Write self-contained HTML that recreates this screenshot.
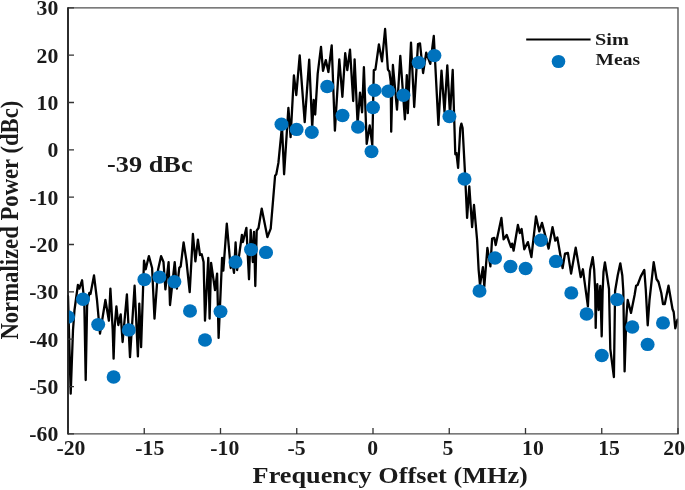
<!DOCTYPE html>
<html><head><meta charset="utf-8"><title>Spectrum</title>
<style>
html,body{margin:0;padding:0;background:#fff;}
svg{display:block;}
text{font-family:"Liberation Serif","Times New Roman",serif;font-weight:bold;fill:#1a1a1a;}
</style></head><body>
<svg width="685" height="490" viewBox="0 0 685 490">
<rect width="685" height="490" fill="#fff"/>
<defs><clipPath id="c"><rect x="67.5" y="7.8" width="610.5" height="426.1"/></clipPath></defs>
<polyline clip-path="url(#c)" points="68,296 70.7,393.6 73,330 74.5,310 77.9,285 79.3,288.6 82.1,280.3 84.3,302 85.7,380 87.1,306 89.3,292.9 90.5,294 94,275.4 97,300 100,333.6 105.4,300 108.9,320.7 110.4,288.6 112.7,330 113.6,358.6 114.6,328 116.4,306.4 118.3,325 120.7,314.3 122.6,342 126.9,294.3 130,357.1 134.6,285.7 137.9,356.4 139.3,303.6 141.1,347.1 144,260.7 145.7,269.3 148.9,256.1 152.1,268 154.5,318.6 158,270 161.1,256.1 163.5,262 165.4,289.3 168.6,262.1 170,305 174.7,262.1 176.9,288.6 179.3,267.9 180.7,266.4 183.6,242.4 186.4,260.7 189.7,292.1 192.9,234 195.4,261.4 197.9,239.6 200,255 201.7,254.3 203.6,262.1 205,320.7 208.3,257.9 209.6,318.6 211.1,262.9 215,290 217.1,273.6 218.6,337.9 222.1,257.9 223.3,270.7 226.8,223.6 230.7,268 232.3,262 234,272.9 235.6,242.5 237.1,270 241.9,235 242.9,242 246.4,227.9 249,279.3 250.7,230 252.8,262 254,232 255.3,286 256.7,230.7 258.5,228 261.7,208.6 267.4,237.1 270.7,228.6 273.1,199.9 275.1,175.7 276.3,174.3 278.4,162.9 282,126 284.1,174.3 288.4,107.9 290.6,137.1 293.9,75.5 296.3,95 299.7,55.3 304.7,122.1 309.2,59.6 312.2,127.5 313.7,100 315.2,114.5 317.7,73.6 321,46.9 323,70.9 325.8,60.1 328.4,72 331.7,45.3 334.9,130.7 339.3,59.3 342.4,96.8 345.2,53.2 347.3,70.2 350,49.6 353.2,101 354.6,59.3 357.6,124 360,92.7 362.1,112.3 363.9,67.2 366.7,143.9 369.7,125.5 372.3,145 373.8,70.2 375.4,69.7 378.9,44.5 382,61.4 385.1,29 387.9,69.5 389.4,71.5 390.7,81.5 391.2,131.7 392.9,65 397,109.7 400.3,55.8 404.9,119.3 406.8,75.2 407.8,113.2 411,42.6 414.2,107 418,44 420,43.4 423.1,73 426.2,52.6 430.3,63.8 433.8,36 438.4,124.9 441.5,70.6 444.5,112 447.3,65.4 450,115 452.7,70 455.3,154.3 456.4,152.9 458.1,167.9 460.3,128 461.4,123.6 462.6,128 465,173 467.1,217.9 469.3,186.4 472.1,227.1 474,205 477.1,240 478.6,269.3 480,285 482.9,267.1 484.3,286.4 487.4,247.9 490.4,266.4 492.1,238.6 494.3,237.9 495.7,245 501.4,217.9 503.6,239.3 506.7,235 511,247.1 512.1,243.6 513.6,250.7 517.9,225 519.8,233 521.6,229 524.3,249.3 527.9,242.1 531.4,257.1 536,216.4 539.3,231.4 542,222.9 548.6,248.6 552.5,227.1 555.3,240.7 557.3,237.5 562.6,268 565,253.6 567.9,252.9 571.1,273.6 575.7,247.6 580.7,277.1 582.9,269.3 587.9,306.4 588.5,294 590.1,270 592.7,257.2 594.2,270 595.2,291 595.7,327.9 596.3,300 597.3,284.2 598.6,310 600.3,285.8 601.7,336.4 602.6,292 603.5,272 604.9,262.3 607,275.5 609,288.8 610.3,349 613.9,377.1 615.1,291 617.7,275.5 620.3,263.3 622.3,275.5 623.3,291 624.6,371.4 626.3,318 627.7,300 631,312.9 634.6,295 636.1,285.8 637.6,285 640.7,276.6 644.3,269.9 645.8,290 647.7,325.3 649.5,300 653.7,262.1 656.5,279 658.5,282 661.3,293 663,304 664.8,304 668.5,285.7 672.5,309 673.7,312 675.3,328.3 677.5,319.6" fill="none" stroke="#000" stroke-width="2.3" stroke-linejoin="round" stroke-linecap="round"/>
<g clip-path="url(#c)" fill="#0072bd">
<ellipse cx="68" cy="317" rx="7" ry="6.7"/><ellipse cx="83" cy="299.2" rx="7" ry="6.7"/><ellipse cx="98.2" cy="324.6" rx="7" ry="6.7"/><ellipse cx="113.6" cy="377" rx="7" ry="6.7"/><ellipse cx="128.8" cy="329.9" rx="7" ry="6.7"/><ellipse cx="144.4" cy="279.6" rx="7" ry="6.7"/><ellipse cx="159.4" cy="277.1" rx="7" ry="6.7"/><ellipse cx="174.4" cy="281.7" rx="7" ry="6.7"/><ellipse cx="190" cy="311" rx="7" ry="6.7"/><ellipse cx="205" cy="340" rx="7" ry="6.7"/><ellipse cx="220.5" cy="311.6" rx="7" ry="6.7"/><ellipse cx="235.5" cy="262" rx="7" ry="6.7"/><ellipse cx="251" cy="249.6" rx="7" ry="6.7"/><ellipse cx="266" cy="252.4" rx="7" ry="6.7"/><ellipse cx="281.5" cy="124.3" rx="7" ry="6.7"/><ellipse cx="296.6" cy="129.4" rx="7" ry="6.7"/><ellipse cx="311.8" cy="132.2" rx="7" ry="6.7"/><ellipse cx="327.2" cy="86.5" rx="7" ry="6.7"/><ellipse cx="342.5" cy="115.5" rx="7" ry="6.7"/><ellipse cx="358" cy="127" rx="7" ry="6.7"/><ellipse cx="371.5" cy="151.6" rx="7" ry="6.7"/><ellipse cx="373" cy="107.5" rx="7" ry="6.7"/><ellipse cx="374.5" cy="90.2" rx="7" ry="6.7"/><ellipse cx="388.3" cy="91.2" rx="7" ry="6.7"/><ellipse cx="403.4" cy="95.2" rx="7" ry="6.7"/><ellipse cx="418.7" cy="62.6" rx="7" ry="6.7"/><ellipse cx="434.4" cy="55.6" rx="7" ry="6.7"/><ellipse cx="449.4" cy="116.5" rx="7" ry="6.7"/><ellipse cx="464.5" cy="179" rx="7" ry="6.7"/><ellipse cx="479.5" cy="291" rx="7" ry="6.7"/><ellipse cx="495" cy="258" rx="7" ry="6.7"/><ellipse cx="510.5" cy="266.5" rx="7" ry="6.7"/><ellipse cx="525.6" cy="268.5" rx="7" ry="6.7"/><ellipse cx="540.8" cy="240.3" rx="7" ry="6.7"/><ellipse cx="555.9" cy="261.4" rx="7" ry="6.7"/><ellipse cx="571.3" cy="292.9" rx="7" ry="6.7"/><ellipse cx="586.6" cy="314" rx="7" ry="6.7"/><ellipse cx="601.8" cy="355.5" rx="7" ry="6.7"/><ellipse cx="617" cy="299.6" rx="7" ry="6.7"/><ellipse cx="632.3" cy="327" rx="7" ry="6.7"/><ellipse cx="647.6" cy="344.4" rx="7" ry="6.7"/><ellipse cx="663" cy="322.9" rx="7" ry="6.7"/>
</g>
<path d="M68 7.8H678V433.9H68" fill="none" stroke="#505050" stroke-width="1.35"/>
<path d="M68 7.2V434.6" fill="none" stroke="#161616" stroke-width="1.8"/>
<path d="M68 433.9v-6 M144.25 433.9v-6 M220.5 433.9v-6 M296.75 433.9v-6 M373 433.9v-6 M449.25 433.9v-6 M525.5 433.9v-6 M601.75 433.9v-6 M678 433.9v-6 M68 433.9h6 M68 386.556h6 M68 339.211h6 M68 291.867h6 M68 244.522h6 M68 197.178h6 M68 149.833h6 M68 102.489h6 M68 55.1444h6 M68 7.8h6" stroke="#333" stroke-width="1.3" fill="none"/>
<text transform="translate(56.4,454.6) scale(1.06,1)" font-size="20.5">-20</text>
<text transform="translate(135.3,454.6) scale(1.06,1)" font-size="20.5">-15</text>
<text transform="translate(210.3,454.6) scale(1.06,1)" font-size="20.5">-10</text>
<text transform="translate(287.5,454.6) scale(1.06,1)" font-size="20.5">-5</text>
<text transform="translate(367.2,454.6) scale(1.06,1)" font-size="20.5">0</text>
<text transform="translate(442.6,454.6) scale(1.06,1)" font-size="20.5">5</text>
<text transform="translate(522.1,454.6) scale(1.06,1)" font-size="20.5">10</text>
<text transform="translate(598.2,454.6) scale(1.06,1)" font-size="20.5">15</text>
<text transform="translate(663.3,454.6) scale(1.06,1)" font-size="20.5">20</text>
<text transform="translate(58.3,441.4) scale(1.06,1)" font-size="20.5" text-anchor="end">-60</text>
<text transform="translate(58.3,394.056) scale(1.06,1)" font-size="20.5" text-anchor="end">-50</text>
<text transform="translate(58.3,346.711) scale(1.06,1)" font-size="20.5" text-anchor="end">-40</text>
<text transform="translate(58.3,299.367) scale(1.06,1)" font-size="20.5" text-anchor="end">-30</text>
<text transform="translate(58.3,252.022) scale(1.06,1)" font-size="20.5" text-anchor="end">-20</text>
<text transform="translate(58.3,204.678) scale(1.06,1)" font-size="20.5" text-anchor="end">-10</text>
<text transform="translate(58.3,157.333) scale(1.06,1)" font-size="20.5" text-anchor="end">0</text>
<text transform="translate(58.3,109.989) scale(1.06,1)" font-size="20.5" text-anchor="end">10</text>
<text transform="translate(58.3,62.6444) scale(1.06,1)" font-size="20.5" text-anchor="end">20</text>
<text transform="translate(58.3,15.3) scale(1.06,1)" font-size="20.5" text-anchor="end">30</text>
<text transform="translate(252.6,483) scale(1.178,1)" font-size="22.3">Frequency Offset (MHz)</text>
<text transform="translate(17.9,339.6) scale(1.08,1) rotate(-90)" font-size="22.7">Normalized Power (dBc)</text>
<text transform="translate(107.1,171.7) scale(1.115,1)" font-size="23.6">-39 dBc</text>
<line x1="526.2" y1="39.4" x2="590.6" y2="39.4" stroke="#000" stroke-width="2"/>
<ellipse cx="558.5" cy="61.5" rx="6.8" ry="6.6" fill="#0072bd"/>
<text transform="translate(595,45.2) scale(1.16,1)" font-size="17.5">Sim</text>
<text transform="translate(595.6,65) scale(1.115,1)" font-size="17.5">Meas</text>
</svg>
</body></html>
